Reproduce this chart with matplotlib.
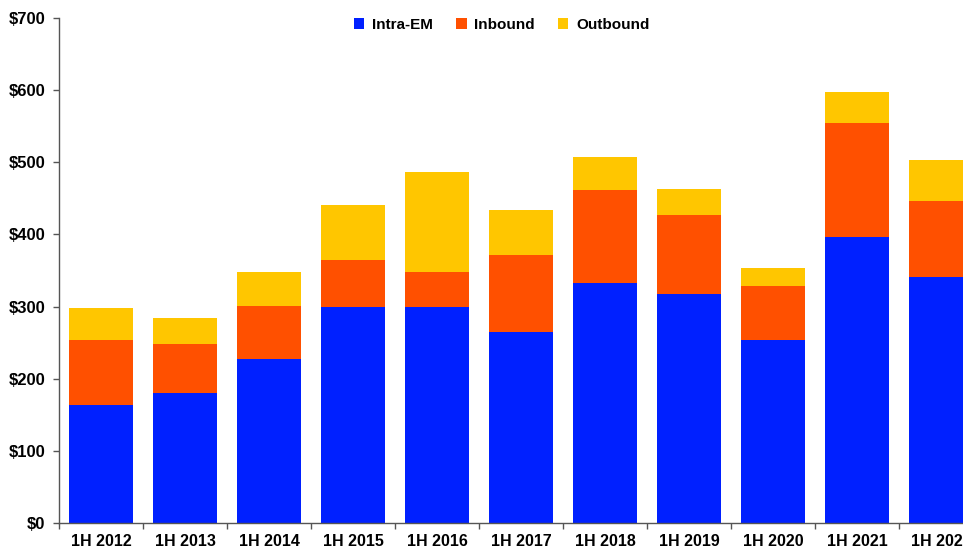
import matplotlib.pyplot as plt
import numpy as np
from matplotlib.ticker import FuncFormatter, FixedLocator

# data ($bn)
periods = ["1H 2012", "1H 2013", "1H 2014", "1H 2015", "1H 2016", "1H 2017",
           "1H 2018", "1H 2019", "1H 2020", "1H 2021", "1H 2022"]
intra_em = [163, 180, 228, 300, 299, 265, 333, 317, 253, 396, 341]
inbound = [91, 68, 73, 64, 49, 107, 129, 110, 76, 158, 106]
outbound = [44, 36, 47, 77, 139, 62, 46, 36, 25, 44, 56]

plt.rcParams['font.family'] = ['Liberation Sans', 'DejaVu Sans']
plt.rcParams['font.weight'] = 'bold'

fig = plt.figure(figsize=(9.63, 5.49), dpi=100)
ax = fig.add_axes([59/963, 26/549, 924/963, 505/549])

x = np.arange(len(periods))
w = 0.77
blue = "#0020FF"
orange = "#FF5000"
yellow = "#FFC600"
ax.bar(x, intra_em, w, color=blue, label="Intra-EM", linewidth=0)
ax.bar(x, inbound, w, bottom=intra_em, color=orange, label="Inbound", linewidth=0)
bottom2 = np.array(intra_em) + np.array(inbound)
ax.bar(x, outbound, w, bottom=bottom2, color=yellow, label="Outbound", linewidth=0)

ax.set_xlim(-0.5, len(periods) - 0.5)
ax.set_ylim(0, 700)
ax.set_yticks(range(0, 701, 100))
ax.yaxis.set_major_formatter(FuncFormatter(lambda v, p: f"${int(v)}"))

ax.set_xticks(x)
ax.set_xticklabels(periods)
ax.xaxis.set_minor_locator(FixedLocator(np.arange(-0.5, len(periods), 1)))
ax.tick_params(axis='x', which='major', length=0, pad=8, labelsize=11.5)
ax.tick_params(axis='x', which='minor', length=4, width=1, color="#555555", direction='out')
ax.tick_params(axis='y', length=4, width=1, color="#555555", pad=6, labelsize=12)

for s in ['top', 'right']:
    ax.spines[s].set_visible(False)
for s in ['left', 'bottom']:
    ax.spines[s].set_color("#555555")
    ax.spines[s].set_linewidth(1)

leg = ax.legend(loc='upper center', bbox_to_anchor=(0.479, 1.027), ncol=3,
                frameon=False, fontsize=11, handlelength=0.7, handleheight=0.7,
                handletextpad=0.5, columnspacing=1.5)

fig.savefig("out.png", dpi=100)
